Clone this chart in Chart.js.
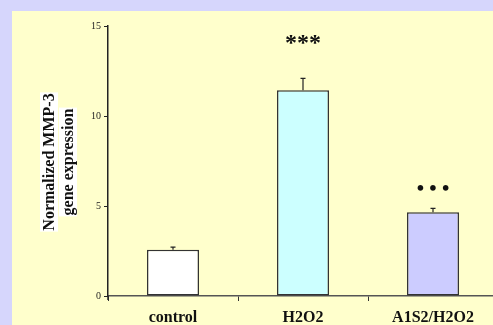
<!DOCTYPE html>
<html>
<head>
<meta charset="utf-8">
<script src="https://cdn.jsdelivr.net/npm/chart.js@4/dist/chart.umd.min.js"></script>
<style>
  html, body { margin: 0; padding: 0; overflow: hidden; }
  body { background: #d6d6fc; width: 493px; height: 325px; position: relative; }
  #panel { position: absolute; left: 12px; top: 11px; right: 0; bottom: 0; background: #ffffcc; }
  #myChart { position: absolute; left: 0; top: 0; }
</style>
</head>
<body>
<div id="panel"></div>
<canvas id="myChart" width="498" height="340"></canvas>
<script>
// chart data
const categories = ['control', 'H2O2', 'A1S2/H2O2'];
const values = [2.57, 11.43, 4.65];
const errors = [0.15, 0.66, 0.22];
const barColors = ['#ffffff', '#ccffff', '#ccccff'];
const marks = ['', '***', '\u2022 \u2022 \u2022'];
const markLevels = [0, 14.0, 5.9];
const yTicks = [0, 5, 10, 15];

// upward error bars + significance marks
const extrasPlugin = {
    id: 'extras',
    afterDatasetsDraw(chart) {
        let ctx = chart.ctx;
        let meta = chart.getDatasetMeta(0);
        let y = chart.scales.y;
        ctx.save();
        meta.data.forEach((bar, i) => {
            let top = y.getPixelForValue(values[i]);
            let cap = y.getPixelForValue(values[i] + errors[i]);
            ctx.strokeStyle = '#222';
            ctx.lineWidth = 1.2;
            ctx.beginPath();
            ctx.moveTo(bar.x, top);
            ctx.lineTo(bar.x, cap);
            ctx.moveTo(bar.x - 2.5, cap);
            ctx.lineTo(bar.x + 2.5, cap);
            ctx.stroke();
            if (marks[i]) {
                ctx.fillStyle = '#111';
                ctx.textAlign = 'center';
                ctx.textBaseline = 'middle';
                ctx.font = i === 1 ? 'bold 24px "Liberation Serif", serif' : 'bold 21px "Liberation Serif", serif';
                ctx.fillText(marks[i], bar.x, y.getPixelForValue(markLevels[i]));
            }
        });
        // small stub of y axis below zero
        let x0 = chart.scales.y.right;
        ctx.strokeStyle = '#222';
        ctx.lineWidth = 1.5;
        ctx.beginPath();
        ctx.moveTo(x0, y.getPixelForValue(0));
        ctx.lineTo(x0, y.getPixelForValue(0) + 4);
        ctx.stroke();
        ctx.restore();
    }
};

// rotated two-line axis title with white highlight boxes
const titlePlugin = {
    id: 'ytitle',
    afterDraw(chart) {
        let ctx = chart.ctx;
        let lines = ['Normalized MMP-3', 'gene expression'];
        let xs = [49, 68];
        let cy = (chart.chartArea.top + chart.chartArea.bottom) / 2 + 1;
        ctx.save();
        ctx.font = 'bold 16px "Liberation Serif", "DejaVu Serif", serif';
        lines.forEach((line, i) => {
            let w = ctx.measureText(line).width;
            ctx.save();
            ctx.translate(xs[i], cy);
            ctx.rotate(-Math.PI / 2);
            ctx.fillStyle = '#ffffff';
            ctx.fillRect(-w / 2 - 1, -9, w + 2, 18);
            ctx.fillStyle = '#111';
            ctx.textAlign = 'center';
            ctx.textBaseline = 'middle';
            ctx.fillText(line, 0, 1);
            ctx.restore();
        });
        ctx.restore();
    }
};

const ctx = document.getElementById('myChart').getContext('2d');
const myChart = new Chart(ctx, {
    type: 'bar',
    data: {
        labels: categories,
        datasets: [{
            data: values,
            backgroundColor: barColors,
            borderColor: '#333',
            borderWidth: 1.5,
            borderSkipped: false,
            barPercentage: 0.8,
            categoryPercentage: 0.5
        }]
    },
    options: {
        responsive: false,
        animation: false,
        layout: { padding: { left: 0, right: 0, top: 26, bottom: 0 } },
        plugins: {
            legend: { display: false },
            tooltip: { enabled: false }
        },
        scales: {
            x: {
                offset: true,
                grid: {
                    display: true,
                    offset: true,
                    drawOnChartArea: false,
                    drawTicks: true,
                    tickLength: 5,
                    color: '#333',
                    lineWidth: 1
                },
                border: { display: true, color: '#555', width: 1.5 },
                ticks: {
                    color: '#111',
                    padding: 7,
                    font: { family: '"Liberation Serif", serif', size: 16, weight: 'bold' }
                },
                afterFit(scale) { scale.height = 44; }
            },
            y: {
                min: 0,
                max: 15,
                afterBuildTicks(scale) { scale.ticks = yTicks.map(v => ({ value: v })); },
                grid: {
                    display: true,
                    drawOnChartArea: false,
                    drawTicks: true,
                    tickLength: 4,
                    color: '#222'
                },
                border: { display: true, color: '#222', width: 1.5 },
                ticks: {
                    color: '#222',
                    padding: 3,
                    font: { family: '"Liberation Serif", serif', size: 10 }
                },
                afterFit(scale) { scale.width = 108; }
            }
        }
    },
    plugins: [extrasPlugin, titlePlugin]
});
</script>
</body>
</html>
